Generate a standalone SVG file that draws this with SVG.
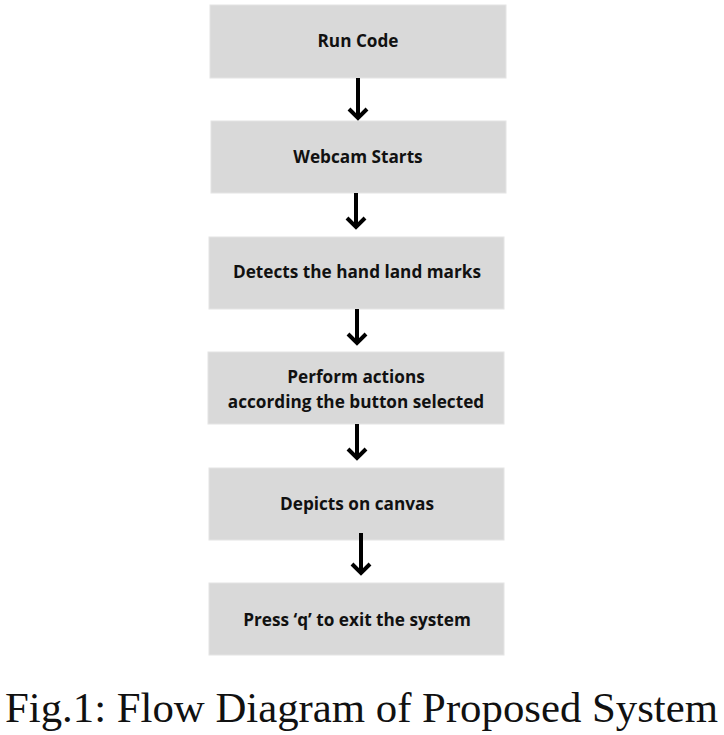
<svg xmlns="http://www.w3.org/2000/svg" width="724" height="735" viewBox="0 0 724 735">
<style>
.box{fill:#d9d9d9;stroke:#e4e4e4;stroke-width:1}
.lbl{font-family:"Open Sans","Liberation Sans",sans-serif;font-weight:bold;font-size:17.2px;fill:#111;text-anchor:middle}
.cap{font-family:"Liberation Serif","Times New Roman",serif;font-size:42px;fill:#111}
.conn line,.conn path{stroke:#000;stroke-width:4;fill:none}
</style>
<rect width="724" height="735" fill="#fff"/>
<g id="n1"><rect class="box" x="210" y="5" width="296" height="73"/><text class="lbl" x="358" y="47">Run Code</text></g>
<g id="n2"><rect class="box" x="211" y="121" width="295" height="72"/><text class="lbl" x="358" y="163">Webcam Starts</text></g>
<g id="n3"><rect class="box" x="209" y="237" width="295" height="72"/><text class="lbl" x="357" y="278">Detects the hand land marks</text></g>
<g id="n4"><rect class="box" x="208" y="352" width="296" height="72"/><text class="lbl" x="356" y="383">Perform actions</text><text class="lbl" x="356" y="408">according the button selected</text></g>
<g id="n5"><rect class="box" x="209" y="468" width="295" height="72"/><text class="lbl" x="357" y="510">Depicts on canvas</text></g>
<g id="n6"><rect class="box" x="209" y="583" width="295" height="72"/><text class="lbl" x="357" y="626">Press ‘q’ to exit the system</text></g>
<g id="connectors" class="conn">
<line x1="358" y1="78" x2="358" y2="118"/><path d="M349 109 L358 118 L367 109"/>
<line x1="356" y1="193" x2="356" y2="227"/><path d="M347 218 L356 227 L365 218"/>
<line x1="357" y1="309" x2="357" y2="343"/><path d="M348 334 L357 343 L366 334"/>
<line x1="357" y1="424" x2="357" y2="458"/><path d="M348 449 L357 458 L366 449"/>
<line x1="361" y1="533" x2="361" y2="573"/><path d="M352 564 L361 573 L370 564"/>
</g>
<text class="cap" x="5" y="722" textLength="713" lengthAdjust="spacingAndGlyphs">Fig.1: Flow Diagram of Proposed System</text>
</svg>
